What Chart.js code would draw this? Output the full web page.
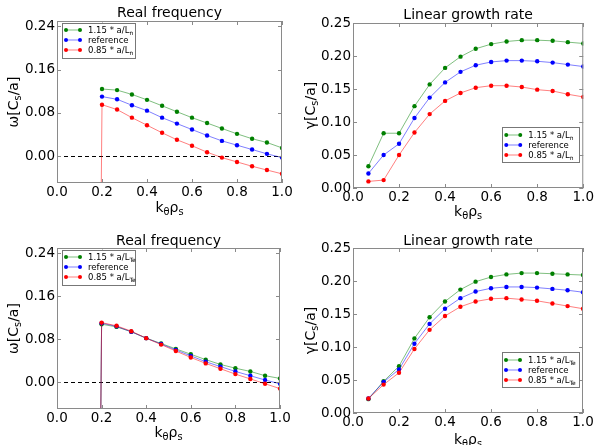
<!DOCTYPE html>
<html>
<head>
<meta charset="utf-8">
<script src="https://cdn.jsdelivr.net/npm/chart.js@4"></script>
<style>
html,body{margin:0;padding:0;background:#fff;}
#wrap{position:relative;width:595px;height:445px;overflow:hidden;background:#fff;}
canvas{position:absolute;display:block;}
</style>
</head>
<body>
<div id="wrap">
  <canvas id="c1" width="297" height="222" style="left:0;top:0"></canvas>
  <canvas id="c2" width="298" height="222" style="left:297px;top:0"></canvas>
  <canvas id="c3" width="297" height="223" style="left:0;top:222px"></canvas>
  <canvas id="c4" width="298" height="223" style="left:297px;top:222px"></canvas>
</div>
<script>
// ---- data ----
const kValues = [0.067,0.133,0.2,0.267,0.333,0.4,0.467,0.533,0.6,0.667,0.733,0.8,0.867,0.933,1.0];
const xTicks = [0,0.2,0.4,0.6,0.8,1.0];
const freqTicks = [0,0.08,0.16,0.24];
const growthTicks = [0,0.05,0.10,0.15,0.20,0.25];

const labelsLn = ['1.15 * a/L_{n}','reference','0.85 * a/L_{n}'];
const labelsLte = ['1.15 * a/L_{Te}','reference','0.85 * a/L_{Te}'];

const freqLnHigh = [null,null,0.124,0.122,0.114,0.104,0.093,0.082,0.071,0.061,0.051,0.041,0.032,0.025,0.015];
const freqLnRef  = [null,null,0.110,0.105,0.094,0.084,0.071,0.060,0.049,0.038,0.028,0.020,0.012,0.004,-0.003];
const freqLnLow  = [-3,-3,0.095,0.086,0.071,0.057,0.043,0.030,0.019,0.007,-0.003,-0.011,-0.019,-0.026,-0.033];

const growthLnHigh = [0.033,0.083,0.083,0.124,0.157,0.182,0.199,0.211,0.218,0.222,0.224,0.224,0.223,0.221,0.219];
const growthLnRef  = [0.022,0.050,0.067,0.106,0.137,0.160,0.176,0.186,0.191,0.193,0.193,0.192,0.190,0.187,0.184];
const growthLnLow  = [0.010,0.012,0.050,0.084,0.112,0.132,0.144,0.152,0.155,0.155,0.153,0.149,0.147,0.142,0.138];

const freqLteHigh = [-3,-3,0.108,0.103,0.094,0.082,0.072,0.062,0.052,0.042,0.033,0.026,0.020,0.012,0.007];
const freqLteRef  = [-3,-3,0.110,0.104,0.094,0.082,0.071,0.060,0.049,0.038,0.029,0.020,0.012,0.004,-0.003];
const freqLteLow  = [-3,-3,0.111,0.105,0.095,0.082,0.070,0.058,0.046,0.035,0.025,0.015,0.006,-0.003,-0.012];

const growthLteHigh = [0.021,0.048,0.071,0.113,0.145,0.169,0.187,0.199,0.206,0.210,0.212,0.212,0.211,0.210,0.209];
const growthLteRef  = [0.022,0.047,0.066,0.105,0.135,0.158,0.174,0.184,0.189,0.191,0.191,0.190,0.188,0.186,0.183];
const growthLteLow  = [0.022,0.043,0.061,0.097,0.126,0.147,0.161,0.169,0.173,0.174,0.172,0.170,0.166,0.162,0.158];

// ---- styling ----
const FAM = '"DejaVu Sans", sans-serif';
const seriesColors = [[0,128,0],[0,0,255],[255,0,0]];
const rgba = (c,a) => `rgba(${c[0]},${c[1]},${c[2]},${a})`;
const FRAME = '#8a8a8a';

function parseRich(str){
  const parts=[]; const re=/_\{([^}]*)\}/g; let last=0, m;
  while((m=re.exec(str))){
    if(m.index>last) parts.push({t:str.slice(last,m.index),sub:false});
    parts.push({t:m[1],sub:true}); last=re.lastIndex;
  }
  if(last<str.length) parts.push({t:str.slice(last),sub:false});
  return parts;
}
function drawRich(ctx,str,x,y,size,align){
  const parts=parseRich(str);
  let w=0;
  parts.forEach(p=>{ctx.font=(p.sub?size*0.7:size)+'px '+FAM; p.w=ctx.measureText(p.t).width; w+=p.w;});
  let cx = align==='center' ? x-w/2 : (align==='right' ? x-w : x);
  ctx.textAlign='left'; ctx.textBaseline='alphabetic'; ctx.fillStyle='#000';
  parts.forEach(p=>{ctx.font=(p.sub?size*0.7:size)+'px '+FAM; ctx.fillText(p.t,cx,y+(p.sub?size*0.22:0)); cx+=p.w;});
}

const decor = {
  id:'decor',
  beforeDatasetsDraw(chart,args,o){
    if(!o.zeroLine) return;
    const ctx=chart.ctx, ca=chart.chartArea, y=Math.round(chart.scales.y.getPixelForValue(0))+0.5;
    ctx.save(); ctx.strokeStyle='#000'; ctx.lineWidth=1; ctx.setLineDash([4,3]);
    ctx.beginPath(); ctx.moveTo(ca.left,y); ctx.lineTo(ca.right,y); ctx.stroke(); ctx.restore();
  },
  afterDraw(chart,args,o){
    const ctx=chart.ctx, ca=chart.chartArea, xs=chart.scales.x, ys=chart.scales.y;
    ctx.save();
    ctx.strokeStyle=FRAME; ctx.lineWidth=1;
    ctx.strokeRect(ca.left+0.5,ca.top+0.5,ca.right-ca.left-1,ca.bottom-ca.top-1);
    ctx.beginPath();
    xs.ticks.forEach(t=>{const p=Math.round(xs.getPixelForValue(t.value))+0.5;
      ctx.moveTo(p,ca.bottom); ctx.lineTo(p,ca.bottom-4); ctx.moveTo(p,ca.top); ctx.lineTo(p,ca.top+4);});
    ys.ticks.forEach(t=>{const p=Math.round(ys.getPixelForValue(t.value))+0.5;
      ctx.moveTo(ca.left,p); ctx.lineTo(ca.left+4,p); ctx.moveTo(ca.right,p); ctx.lineTo(ca.right-4,p);});
    ctx.stroke();
    drawRich(ctx,o.title,(ca.left+ca.right)/2,ca.top+o.titleDy,14,'center');
    drawRich(ctx,o.xLabel,(ca.left+ca.right)/2,ca.bottom+o.xLabelDy,14,'center');
    ctx.save(); ctx.translate(ca.left+o.yLabelDx,(ca.top+ca.bottom)/2); ctx.rotate(-Math.PI/2);
    drawRich(ctx,o.yLabel,0,0,14,'center'); ctx.restore();
    const L=o.legend, bw=L.w, bh=L.h;
    const bx = L.corner==='tl' ? ca.left+L.dx : ca.right-L.dx-bw;
    const by = L.corner==='tl' ? ca.top+L.dy : ca.bottom-L.dy-bh;
    ctx.fillStyle='#fff'; ctx.fillRect(bx,by,bw,bh);
    ctx.strokeStyle='#777'; ctx.lineWidth=1; ctx.strokeRect(Math.round(bx)+0.5,Math.round(by)+0.5,bw,bh);
    chart.data.datasets.forEach((ds,i)=>{
      const ry=by+L.row0+i*L.rowGap, c=seriesColors[i];
      ctx.strokeStyle=rgba(c,0.5); ctx.lineWidth=1;
      ctx.beginPath(); ctx.moveTo(bx+4.5,ry); ctx.lineTo(bx+18.5,ry); ctx.stroke();
      ctx.fillStyle=rgba(c,1);
      [bx+4.5,bx+18.5].forEach(px=>{ctx.beginPath(); ctx.arc(px,ry,2,0,Math.PI*2); ctx.fill();});
      drawRich(ctx,ds.label,bx+26.5,ry+3,8.5,'left');
    });
    ctx.restore();
  }
};

function makeChart(id,cfg){
  const datasets = cfg.series.map((vals,i)=>({
    label: cfg.labels[i],
    data: kValues.map((k,j)=>({x:k,y:vals[j]})),
    borderColor: rgba(seriesColors[i],0.5),
    backgroundColor: rgba(seriesColors[i],1),
    pointBackgroundColor: rgba(seriesColors[i],1),
    pointBorderColor: rgba(seriesColors[i],1),
    pointBorderWidth: 0,
    pointRadius: 2.2,
    borderWidth: 1,
    tension: 0,
    spanGaps: false,
    order: 3-i
  }));
  return new Chart(document.getElementById(id),{
    type:'line',
    data:{datasets},
    options:{
      responsive:false, animation:false, events:[],
      layout:{padding:cfg.pad},
      plugins:{legend:{display:false},title:{display:false},tooltip:{enabled:false},decor:cfg.decor},
      scales:{
        x:{type:'linear',min:0,max:1,
          afterBuildTicks:s=>{s.ticks=xTicks.map(v=>({value:v}));},
          ticks:{callback:v=>Number(v).toFixed(1),font:{size:13.5,family:FAM},color:'#000',padding:1,maxRotation:0,autoSkip:false},
          grid:{display:false,drawTicks:false},border:{display:false},
          afterFit:s=>{s.height=cfg.xh;}},
        y:{type:'linear',min:cfg.ymin,max:cfg.ymax,
          afterBuildTicks:s=>{s.ticks=cfg.yTicks.map(v=>({value:v}));},
          ticks:{callback:v=>Number(v).toFixed(2),font:{size:13.5,family:FAM},color:'#000',padding:2,autoSkip:false},
          grid:{display:false,drawTicks:false},border:{display:false},
          afterFit:s=>{s.width=cfg.yw;}}
      }
    },
    plugins:[decor]
  });
}

const legendLeft = {corner:'tl',dx:4.5,dy:1.5,w:73,h:35,row0:7.5,rowGap:10};
const legendRight = {corner:'br',dx:4.5,dy:26,w:77,h:35,row0:8,rowGap:10};

makeChart('c1',{series:[freqLnHigh,freqLnRef,freqLnLow],labels:labelsLn,
  ymin:-0.05,ymax:0.25,yTicks:freqTicks,yw:57,xh:39,pad:{left:0,top:21,right:15,bottom:0},
  decor:{title:'Real frequency',xLabel:'k_{θ}ρ_{s}',yLabel:'ω[C_{s}/a]',zeroLine:true,titleDy:-4,xLabelDy:29,yLabelDx:-39,legend:legendLeft}});
makeChart('c2',{series:[growthLnHigh,growthLnRef,growthLnLow],labels:labelsLn,
  ymin:0,ymax:0.25,yTicks:growthTicks,yw:56,xh:34,pad:{left:0,top:23,right:11,bottom:0},
  decor:{title:'Linear growth rate',xLabel:'k_{θ}ρ_{s}',yLabel:'γ[C_{s}/a]',zeroLine:false,titleDy:-4.5,xLabelDy:28,yLabelDx:-38,legend:legendRight}});
makeChart('c3',{series:[freqLteHigh,freqLteRef,freqLteLow],labels:labelsLte,
  ymin:-0.05,ymax:0.25,yTicks:freqTicks,yw:57,xh:36,pad:{left:0,top:26,right:17,bottom:0},
  decor:{title:'Real frequency',xLabel:'k_{θ}ρ_{s}',yLabel:'ω[C_{s}/a]',zeroLine:true,titleDy:-3.5,xLabelDy:28,yLabelDx:-39,legend:legendLeft}});
makeChart('c4',{series:[growthLteHigh,growthLteRef,growthLteLow],labels:labelsLte,
  ymin:0,ymax:0.25,yTicks:growthTicks,yw:56,xh:32,pad:{left:0,top:26,right:12,bottom:0},
  decor:{title:'Linear growth rate',xLabel:'k_{θ}ρ_{s}',yLabel:'γ[C_{s}/a]',zeroLine:false,titleDy:-3.5,xLabelDy:31,yLabelDx:-38,legend:legendRight}});
</script>
</body>
</html>
